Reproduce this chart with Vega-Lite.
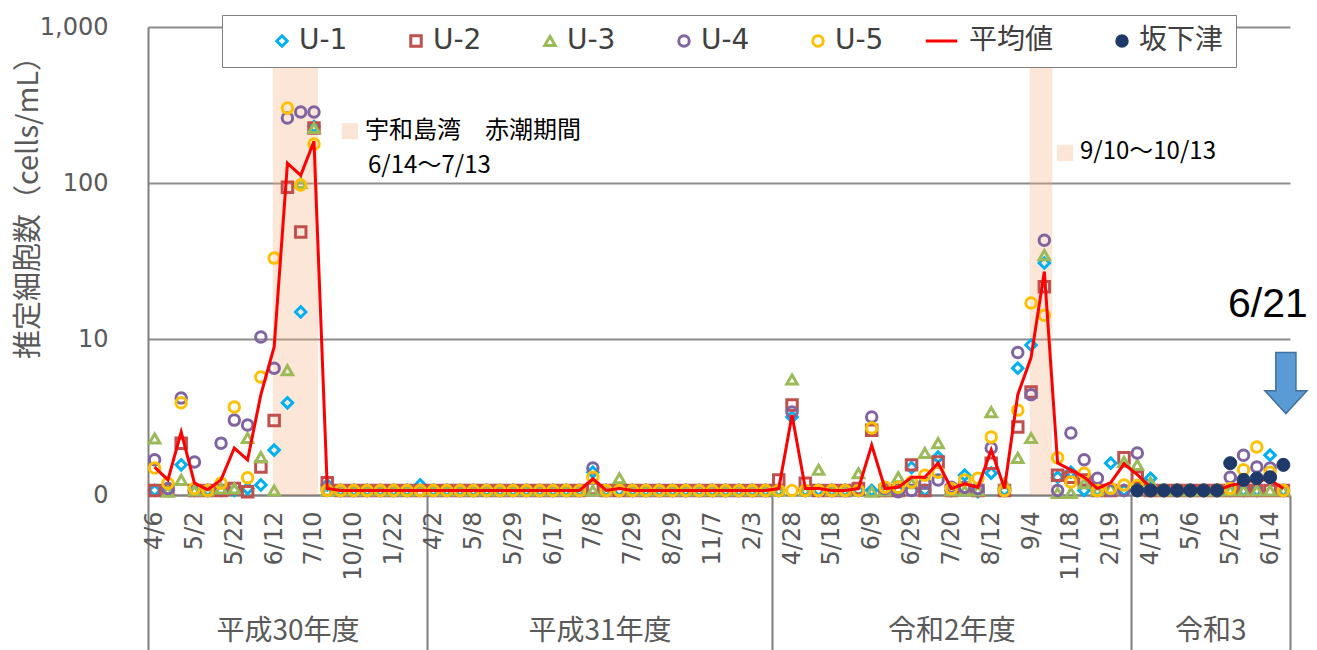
{
"$schema": "https://vega.github.io/schema/vega-lite/v6.json",
"width": 1142, "height": 468,
"autosize": {"type": "none"},
"padding": {"left": 148, "top": 27, "right": 27, "bottom": 155},
"background": "white",
"config": {"view": {"stroke": null}, "font": "DejaVu Sans, Noto Sans CJK JP",
  "legend": {"title": null, "orient": "none", "legendX": 74, "legendY": -12, "direction": "horizontal",
    "strokeColor": "#7f7f7f", "fillColor": "white", "padding": 12, "labelFontSize": 28, "labelColor": "#404040",
    "symbolSize": 110, "symbolStrokeWidth": 3, "symbolOffset": 34, "labelOffset": 3, "columnPadding": 20}},
"data": {"values": [
{"i":0,"U-1":1.07,"U-2":1.07,"U-3":2.3,"U-4":1.68,"U-5":1.49,"平均値":1.51},
{"i":1,"U-1":1.07,"U-2":1.07,"U-3":1.05,"U-4":1.1,"U-5":1.19,"平均値":1.25},
{"i":2,"U-1":1.56,"U-2":2.15,"U-3":1.25,"U-4":4.18,"U-5":3.9,"平均値":2.53},
{"i":3,"U-1":1.07,"U-2":1.07,"U-3":1.07,"U-4":1.63,"U-5":1.1,"平均値":1.19},
{"i":4,"U-1":1.07,"U-2":1.07,"U-3":1.07,"U-4":1.07,"U-5":1.07,"平均値":1.08},
{"i":5,"U-1":1.07,"U-2":1.07,"U-3":1.1,"U-4":2.15,"U-5":1.19,"平均値":1.25},
{"i":6,"U-1":1.07,"U-2":1.1,"U-3":1.1,"U-4":3.02,"U-5":3.66,"平均値":2.0},
{"i":7,"U-1":1.1,"U-2":1.05,"U-3":2.32,"U-4":2.81,"U-5":1.29,"平均値":1.68},
{"i":8,"U-1":1.16,"U-2":1.51,"U-3":1.75,"U-4":10.3,"U-5":5.7,"平均値":4.4},
{"i":9,"U-1":1.94,"U-2":3.0,"U-3":1.07,"U-4":6.5,"U-5":33,"平均値":8.9},
{"i":10,"U-1":3.9,"U-2":94,"U-3":6.3,"U-4":261,"U-5":302,"平均値":134},
{"i":11,"U-1":14.9,"U-2":48.5,"U-3":100,"U-4":285,"U-5":97,"平均値":112},
{"i":12,"U-1":230,"U-2":225,"U-3":225,"U-4":285,"U-5":178,"平均値":185},
{"i":13,"U-1":1.16,"U-2":1.2,"U-3":1.07,"U-4":1.07,"U-5":1.07,"平均値":1.1},
{"i":14,"U-1":1.07,"U-2":1.07,"U-3":1.07,"U-4":1.07,"U-5":1.07,"平均値":1.07},
{"i":15,"U-1":1.07,"U-2":1.07,"U-3":1.07,"U-4":1.07,"U-5":1.07,"平均値":1.07},
{"i":16,"U-1":1.07,"U-2":1.07,"U-3":1.07,"U-4":1.07,"U-5":1.07,"平均値":1.07},
{"i":17,"U-1":1.07,"U-2":1.07,"U-3":1.07,"U-4":1.07,"U-5":1.07,"平均値":1.07},
{"i":18,"U-1":1.07,"U-2":1.07,"U-3":1.07,"U-4":1.07,"U-5":1.07,"平均値":1.07},
{"i":19,"U-1":1.07,"U-2":1.07,"U-3":1.07,"U-4":1.07,"U-5":1.07,"平均値":1.07},
{"i":20,"U-1":1.16,"U-2":1.07,"U-3":1.07,"U-4":1.07,"U-5":1.07,"平均値":1.07},
{"i":21,"U-1":1.07,"U-2":1.07,"U-3":1.07,"U-4":1.07,"U-5":1.07,"平均値":1.07},
{"i":22,"U-1":1.07,"U-2":1.07,"U-3":1.07,"U-4":1.07,"U-5":1.07,"平均値":1.07},
{"i":23,"U-1":1.07,"U-2":1.07,"U-3":1.07,"U-4":1.07,"U-5":1.07,"平均値":1.07},
{"i":24,"U-1":1.07,"U-2":1.07,"U-3":1.07,"U-4":1.07,"U-5":1.07,"平均値":1.07},
{"i":25,"U-1":1.07,"U-2":1.07,"U-3":1.07,"U-4":1.07,"U-5":1.07,"平均値":1.07},
{"i":26,"U-1":1.07,"U-2":1.07,"U-3":1.07,"U-4":1.07,"U-5":1.07,"平均値":1.07},
{"i":27,"U-1":1.07,"U-2":1.07,"U-3":1.07,"U-4":1.07,"U-5":1.07,"平均値":1.07},
{"i":28,"U-1":1.07,"U-2":1.07,"U-3":1.07,"U-4":1.07,"U-5":1.07,"平均値":1.07},
{"i":29,"U-1":1.07,"U-2":1.07,"U-3":1.07,"U-4":1.07,"U-5":1.07,"平均値":1.07},
{"i":30,"U-1":1.07,"U-2":1.07,"U-3":1.07,"U-4":1.07,"U-5":1.07,"平均値":1.07},
{"i":31,"U-1":1.07,"U-2":1.07,"U-3":1.07,"U-4":1.07,"U-5":1.07,"平均値":1.07},
{"i":32,"U-1":1.07,"U-2":1.07,"U-3":1.07,"U-4":1.07,"U-5":1.07,"平均値":1.07},
{"i":33,"U-1":1.4,"U-2":1.1,"U-3":1.07,"U-4":1.49,"U-5":1.3,"平均値":1.27},
{"i":34,"U-1":1.07,"U-2":1.07,"U-3":1.07,"U-4":1.07,"U-5":1.07,"平均値":1.07},
{"i":35,"U-1":1.07,"U-2":1.07,"U-3":1.28,"U-4":1.07,"U-5":1.07,"平均値":1.1},
{"i":36,"U-1":1.07,"U-2":1.07,"U-3":1.07,"U-4":1.07,"U-5":1.07,"平均値":1.07},
{"i":37,"U-1":1.07,"U-2":1.07,"U-3":1.07,"U-4":1.07,"U-5":1.07,"平均値":1.07},
{"i":38,"U-1":1.07,"U-2":1.07,"U-3":1.07,"U-4":1.07,"U-5":1.07,"平均値":1.07},
{"i":39,"U-1":1.07,"U-2":1.07,"U-3":1.07,"U-4":1.07,"U-5":1.07,"平均値":1.07},
{"i":40,"U-1":1.07,"U-2":1.07,"U-3":1.07,"U-4":1.07,"U-5":1.07,"平均値":1.07},
{"i":41,"U-1":1.07,"U-2":1.07,"U-3":1.07,"U-4":1.07,"U-5":1.07,"平均値":1.07},
{"i":42,"U-1":1.07,"U-2":1.07,"U-3":1.07,"U-4":1.07,"U-5":1.07,"平均値":1.07},
{"i":43,"U-1":1.07,"U-2":1.07,"U-3":1.07,"U-4":1.07,"U-5":1.07,"平均値":1.07},
{"i":44,"U-1":1.07,"U-2":1.07,"U-3":1.07,"U-4":1.07,"U-5":1.07,"平均値":1.07},
{"i":45,"U-1":1.07,"U-2":1.07,"U-3":1.07,"U-4":1.07,"U-5":1.07,"平均値":1.07},
{"i":46,"U-1":1.07,"U-2":1.07,"U-3":1.07,"U-4":1.07,"U-5":1.07,"平均値":1.07},
{"i":47,"U-1":1.07,"U-2":1.25,"U-3":1.07,"U-4":1.07,"U-5":1.07,"平均値":1.1},
{"i":48,"U-1":3.16,"U-2":3.77,"U-3":5.5,"U-4":3.4,"U-5":1.07,"平均値":3.26},
{"i":49,"U-1":1.07,"U-2":1.19,"U-3":1.07,"U-4":1.07,"U-5":1.07,"平均値":1.1},
{"i":50,"U-1":1.07,"U-2":1.07,"U-3":1.45,"U-4":1.07,"U-5":1.07,"平均値":1.1},
{"i":51,"U-1":1.07,"U-2":1.07,"U-3":1.07,"U-4":1.07,"U-5":1.07,"平均値":1.07},
{"i":52,"U-1":1.07,"U-2":1.07,"U-3":1.07,"U-4":1.07,"U-5":1.07,"平均値":1.07},
{"i":53,"U-1":1.07,"U-2":1.1,"U-3":1.38,"U-4":1.07,"U-5":1.07,"平均値":1.1},
{"i":54,"U-1":1.07,"U-2":2.6,"U-3":1.05,"U-4":3.16,"U-5":2.69,"平均値":2.09},
{"i":55,"U-1":1.07,"U-2":1.07,"U-3":1.07,"U-4":1.1,"U-5":1.12,"平均値":1.1},
{"i":56,"U-1":1.07,"U-2":1.07,"U-3":1.3,"U-4":1.05,"U-5":1.12,"平均値":1.12},
{"i":57,"U-1":1.5,"U-2":1.56,"U-3":1.19,"U-4":1.07,"U-5":1.21,"平均値":1.3},
{"i":58,"U-1":1.07,"U-2":1.07,"U-3":1.86,"U-4":1.19,"U-5":1.34,"平均値":1.3},
{"i":59,"U-1":1.75,"U-2":1.63,"U-3":2.15,"U-4":1.25,"U-5":1.4,"平均値":1.6},
{"i":60,"U-1":1.07,"U-2":1.07,"U-3":1.07,"U-4":1.12,"U-5":1.1,"平均値":1.1},
{"i":61,"U-1":1.34,"U-2":1.1,"U-3":1.07,"U-4":1.12,"U-5":1.25,"平均値":1.18},
{"i":62,"U-1":1.05,"U-2":1.07,"U-3":1.07,"U-4":1.1,"U-5":1.28,"平均値":1.12},
{"i":63,"U-1":1.38,"U-2":1.6,"U-3":3.4,"U-4":2.0,"U-5":2.35,"平均値":1.95},
{"i":64,"U-1":1.07,"U-2":1.07,"U-3":1.19,"U-4":1.07,"U-5":1.07,"平均値":1.1},
{"i":65,"U-1":6.5,"U-2":2.73,"U-3":1.73,"U-4":8.2,"U-5":3.5,"平均値":4.4},
{"i":66,"U-1":9.15,"U-2":4.57,"U-3":2.32,"U-4":4.4,"U-5":17,"平均値":7.6},
{"i":67,"U-1":30.7,"U-2":21.6,"U-3":34.5,"U-4":43,"U-5":14.2,"平均値":27},
{"i":68,"U-1":1.3,"U-2":1.34,"U-3":1.03,"U-4":1.07,"U-5":1.73,"平均値":1.6},
{"i":69,"U-1":1.4,"U-2":1.3,"U-3":1.03,"U-4":2.5,"U-5":1.21,"平均値":1.45},
{"i":70,"U-1":1.07,"U-2":1.25,"U-3":1.19,"U-4":1.68,"U-5":1.38,"平均値":1.3},
{"i":71,"U-1":1.07,"U-2":1.07,"U-3":1.07,"U-4":1.28,"U-5":1.07,"平均値":1.1},
{"i":72,"U-1":1.6,"U-2":1.07,"U-3":1.1,"U-4":1.07,"U-5":1.1,"平均値":1.2},
{"i":73,"U-1":1.07,"U-2":1.73,"U-3":1.63,"U-4":1.07,"U-5":1.16,"平均値":1.58},
{"i":74,"U-1":1.07,"U-2":1.3,"U-3":1.56,"U-4":1.86,"U-5":1.15,"平均値":1.35,"坂下津":1.07},
{"i":75,"U-1":1.28,"U-2":1.07,"U-3":1.2,"U-4":1.07,"U-5":1.07,"平均値":1.12,"坂下津":1.07},
{"i":76,"U-1":1.07,"U-2":1.07,"U-3":1.07,"U-4":1.07,"U-5":1.07,"平均値":1.07,"坂下津":1.07},
{"i":77,"U-1":1.07,"U-2":1.07,"U-3":1.07,"U-4":1.07,"U-5":1.07,"平均値":1.07,"坂下津":1.07},
{"i":78,"U-1":1.07,"U-2":1.07,"U-3":1.07,"U-4":1.07,"U-5":1.07,"平均値":1.07,"坂下津":1.07},
{"i":79,"U-1":1.07,"U-2":1.07,"U-3":1.07,"U-4":1.07,"U-5":1.07,"平均値":1.07,"坂下津":1.07},
{"i":80,"U-1":1.07,"U-2":1.07,"U-3":1.07,"U-4":1.07,"U-5":1.07,"平均値":1.07,"坂下津":1.07},
{"i":81,"U-1":1.07,"U-2":1.07,"U-3":1.07,"U-4":1.3,"U-5":1.1,"平均値":1.15,"坂下津":1.6},
{"i":82,"U-1":1.07,"U-2":1.07,"U-3":1.07,"U-4":1.8,"U-5":1.45,"平均値":1.2,"坂下津":1.25},
{"i":83,"U-1":1.07,"U-2":1.07,"U-3":1.07,"U-4":1.51,"U-5":2.03,"平均値":1.25,"坂下津":1.28},
{"i":84,"U-1":1.8,"U-2":1.07,"U-3":1.07,"U-4":1.49,"U-5":1.4,"平均値":1.25,"坂下津":1.3},
{"i":85,"U-1":1.07,"U-2":1.07,"U-3":1.07,"U-4":1.07,"U-5":1.07,"平均値":1.1,"坂下津":1.56}
]},
"layer": [
  {
    "data": {"values": [{"start": 8.9, "end": 12.3}, {"start": 65.9, "end": 67.6}]},
    "mark": {"type": "rect", "color": "#F4B183", "opacity": 0.32},
    "encoding": {
      "x": {"field": "start", "type": "quantitative", "scale": {"domain": [-0.5, 85.5], "nice": false, "zero": false},
        "axis": {"orient": "bottom", "values": [-0.5, 20.5, 46.5, 73.5, 85.5], "ticks": true, "tickSize": 160, "tickColor": "#7f7f7f", "tickWidth": 2, "labels": false, "domain": false, "grid": false, "title": null}},
      "x2": {"field": "end"}
    }
  },
  {
    "data": {"values": [{"i": 14.7, "v": 215}, {"i": 68.55, "v": 156}]},
    "mark": {"type": "point", "shape": "square", "filled": true, "size": 260, "color": "#FBE5D6", "opacity": 1},
    "encoding": {
      "x": {"field": "i", "type": "quantitative", "scale": {"domain": [-0.5, 85.5], "nice": false, "zero": false}, "axis": null},
      "y": {"field": "v", "type": "quantitative", "scale": {"type": "log", "domain": [1, 1000], "nice": false},
        "axis": {"title": "推定細胞数（cells/mL）", "values": [1, 10, 100, 1000],
          "labelExpr": "datum.value == 1 ? '0' : format(datum.value, ',')",
          "grid": true, "gridColor": "#8c8c8c", "gridWidth": 2, "ticks": false,
          "domainColor": "#7f7f7f", "domainWidth": 2,
          "labelFontSize": 24, "labelColor": "#595959", "labelPadding": 40,
          "titleFont": "Noto Sans CJK JP", "titleFontSize": 29, "titleColor": "#595959", "titleFontWeight": "normal",
          "titleX": -120, "titleY": 173, "titleAngle": -90, "titleAlign": "center", "titleBaseline": "middle"}}
    }
  },
  {
    "data": {"values": [
      {"i": 15.84, "v": 214, "t": "宇和島湾　赤潮期間"},
      {"i": 16.07, "v": 128, "t": "6/14～7/13"},
      {"i": 69.68, "v": 158, "t": "9/10～10/13"}
    ]},
    "mark": {"type": "text", "align": "left", "baseline": "middle", "font": "Noto Sans CJK JP", "fontSize": 24, "color": "#000000"},
    "encoding": {
      "x": {"field": "i", "type": "quantitative", "scale": {"domain": [-0.5, 85.5], "nice": false, "zero": false},
        "axis": {"orient": "bottom", "values": [10, 33.5, 60, 79.5],
          "labelExpr": "datum.value < 20 ? '平成30年度' : datum.value < 40 ? '平成31年度' : datum.value < 70 ? '令和2年度' : '令和3'",
          "ticks": false, "domain": false, "grid": false, "labelPadding": 122, "labelFontSize": 28, "labelColor": "#595959",
          "labelFont": "Noto Sans CJK JP", "title": null, "labelFlush": false, "labelOverlap": false}},
      "y": {"field": "v", "type": "quantitative"},
      "text": {"field": "t"}
    }
  },
  {
    "data": {"values": [{"i": 83.84, "v": 16.5, "t": "6/21"}]},
    "mark": {"type": "text", "align": "center", "baseline": "middle", "font": "Liberation Sans", "fontSize": 41, "color": "#000000"},
    "encoding": {
      "x": {"field": "i", "type": "quantitative", "scale": {"domain": [-0.5, 85.5], "nice": false, "zero": false}, "axis": null},
      "y": {"field": "v", "type": "quantitative"},
      "text": {"field": "t"}
    }
  },
  {
    "data": {"values": [{"i": 85.19, "v": 5.22}]},
    "mark": {"type": "point", "shape": "M-0.33,-1L0.33,-1L0.33,0.25L0.69,0.25L0,1L-0.69,0.25L-0.33,0.25Z", "filled": true, "size": 3721, "fill": "#5B9BD5", "stroke": "#41719C", "strokeWidth": 1.5, "opacity": 1},
    "encoding": {
      "x": {"field": "i", "type": "quantitative", "scale": {"domain": [-0.5, 85.5], "nice": false, "zero": false}, "axis": null},
      "y": {"field": "v", "type": "quantitative"}
    }
  },
  {
    "transform": [{"fold": ["U-1", "U-2", "U-3", "U-4", "U-5"], "as": ["s", "v"]}],
    "mark": {"type": "point", "strokeWidth": 3, "size": 110, "opacity": 1},
    "encoding": {
      "x": {"field": "i", "type": "quantitative", "scale": {"domain": [-0.5, 85.5], "nice": false, "zero": false},
        "axis": {"orient": "bottom", "values": [0,3,6,9,12,15,18,21,24,27,30,33,36,39,42,45,48,51,54,57,60,63,66,69,72,75,78,81,84],
          "labelExpr": "['4/6','5/2','5/22','6/12','7/10','10/10','1/22','4/2','5/8','5/29','6/17','7/8','7/29','8/29','11/7','2/3','4/28','5/18','6/9','6/29','7/20','8/12','9/4','11/18','2/19','4/13','5/6','5/25','6/14'][round(datum.value / 3)]",
          "labelAngle": -90, "labelFontSize": 24, "labelColor": "#595959", "labelPadding": 16,
          "ticks": false, "grid": false, "domain": true, "domainColor": "#7f7f7f", "domainWidth": 2,
          "title": null, "labelFlush": false, "labelOverlap": false}},
      "y": {"field": "v", "type": "quantitative"},
      "stroke": {"field": "s", "type": "nominal",
        "scale": {"domain": ["U-1", "U-2", "U-3", "U-4", "U-5", "平均値", "坂下津"], "range": ["#00B0F0", "#C0504D", "#9BBB59", "#8064A2", "#FFC000", "#FF0000", "#1F3A68"]}},
      "fill": {"field": "s", "type": "nominal",
        "scale": {"domain": ["U-1", "U-2", "U-3", "U-4", "U-5", "平均値", "坂下津"], "range": ["transparent", "transparent", "transparent", "transparent", "transparent", "transparent", "#1F3A68"]}},
      "shape": {"field": "s", "type": "nominal",
        "scale": {"domain": ["U-1", "U-2", "U-3", "U-4", "U-5", "平均値", "坂下津"], "range": ["diamond", "square", "triangle-up", "circle", "circle", "M-5,0L1,0", "circle"]}}
    }
  },
  {
    "transform": [{"fold": ["平均値"], "as": ["s", "v"]}],
    "mark": {"type": "line", "strokeWidth": 3},
    "encoding": {
      "x": {"field": "i", "type": "quantitative", "scale": {"domain": [-0.5, 85.5], "nice": false, "zero": false}, "axis": null},
      "y": {"field": "v", "type": "quantitative"},
      "stroke": {"field": "s", "type": "nominal",
        "scale": {"domain": ["U-1", "U-2", "U-3", "U-4", "U-5", "平均値", "坂下津"], "range": ["#00B0F0", "#C0504D", "#9BBB59", "#8064A2", "#FFC000", "#FF0000", "#1F3A68"]}}
    }
  },
  {
    "transform": [{"fold": ["坂下津"], "as": ["s", "v"]}, {"filter": "isValid(datum.v)"}],
    "mark": {"type": "point", "size": 170, "strokeWidth": 1, "opacity": 1},
    "encoding": {
      "x": {"field": "i", "type": "quantitative", "scale": {"domain": [-0.5, 85.5], "nice": false, "zero": false}, "axis": null},
      "y": {"field": "v", "type": "quantitative"},
      "stroke": {"field": "s", "type": "nominal",
        "scale": {"domain": ["U-1", "U-2", "U-3", "U-4", "U-5", "平均値", "坂下津"], "range": ["#00B0F0", "#C0504D", "#9BBB59", "#8064A2", "#FFC000", "#FF0000", "#1F3A68"]}},
      "fill": {"field": "s", "type": "nominal",
        "scale": {"domain": ["U-1", "U-2", "U-3", "U-4", "U-5", "平均値", "坂下津"], "range": ["transparent", "transparent", "transparent", "transparent", "transparent", "transparent", "#1F3A68"]}},
      "shape": {"field": "s", "type": "nominal",
        "scale": {"domain": ["U-1", "U-2", "U-3", "U-4", "U-5", "平均値", "坂下津"], "range": ["diamond", "square", "triangle-up", "circle", "circle", "M-5,0L1,0", "circle"]}}
    }
  }
],
"resolve": {"axis": {"x": "independent"}}
}
